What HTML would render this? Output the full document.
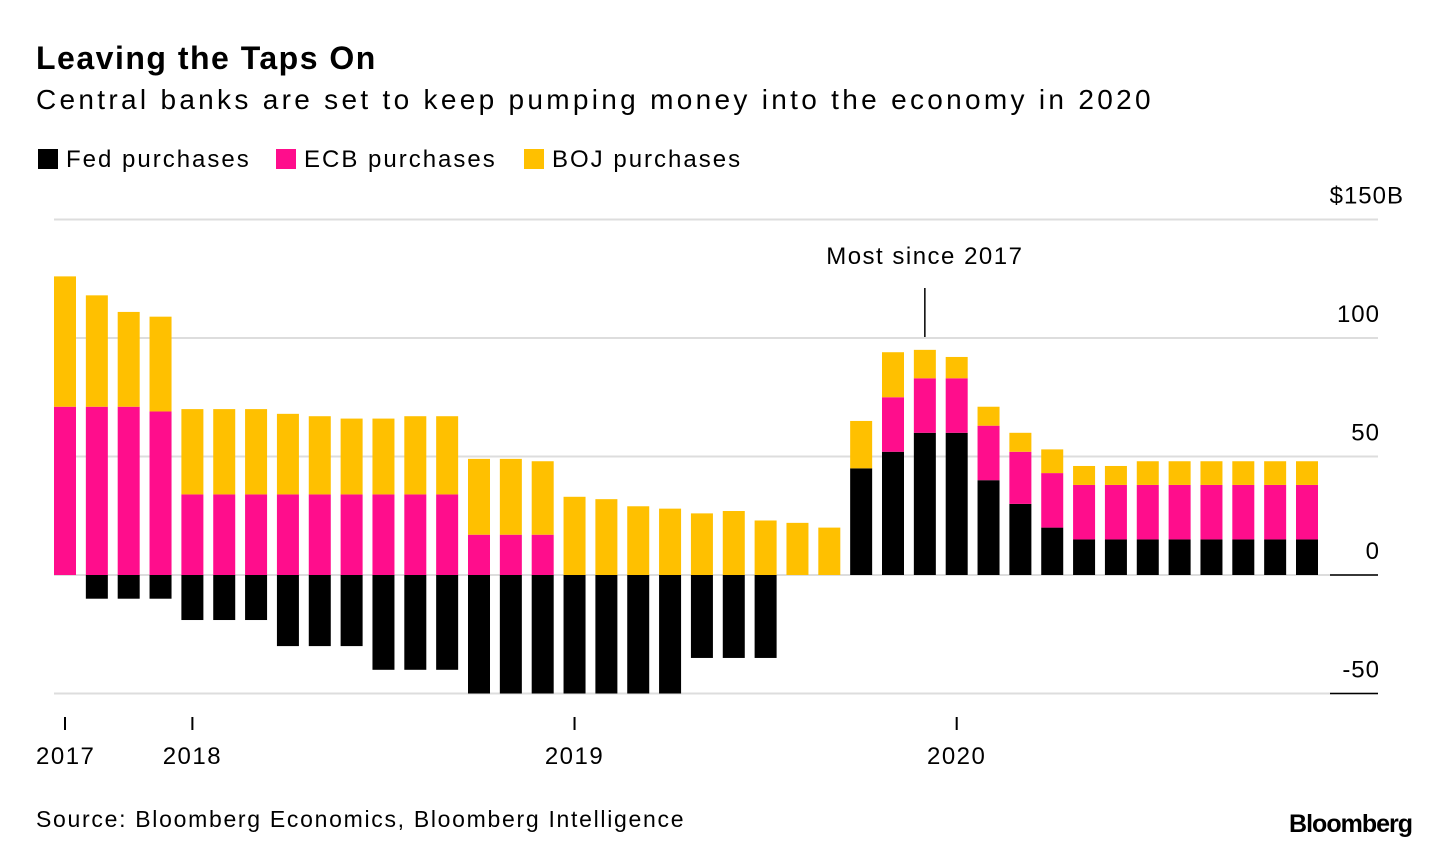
<!DOCTYPE html>
<html><head><meta charset="utf-8"><style>
body{margin:0;background:#fff;font-family:"Liberation Sans",sans-serif;}
#wrap{position:relative;width:1439px;height:850px;overflow:hidden;}
.t{position:absolute;white-space:nowrap;color:#000;}
</style></head><body>
<div id="wrap">
<div class="t" style="left:36px;top:40px;font-size:32px;font-weight:bold;letter-spacing:1.5px">Leaving the Taps On</div>
<div class="t" style="left:36px;top:84px;font-size:28px;letter-spacing:3.3px">Central banks are set to keep pumping money into the economy in 2020</div>
<div class="t" style="left:38px;top:146px;font-size:24px;letter-spacing:2px"><span style="display:inline-block;width:20px;height:20px;background:#000;vertical-align:-2px;margin-right:8px"></span>Fed purchases</div>
<div class="t" style="left:276px;top:146px;font-size:24px;letter-spacing:2px"><span style="display:inline-block;width:20px;height:20px;background:#ff0d8c;vertical-align:-2px;margin-right:8px"></span>ECB purchases</div>
<div class="t" style="left:524px;top:146px;font-size:24px;letter-spacing:2px"><span style="display:inline-block;width:20px;height:20px;background:#ffc000;vertical-align:-2px;margin-right:8px"></span>BOJ purchases</div>
<svg id="chart" width="1439" height="850" style="position:absolute;left:0;top:0"></svg>
<div class="t" style="left:36px;top:806px;font-size:23px;letter-spacing:1.7px">Source: Bloomberg Economics, Bloomberg Intelligence</div>
<div class="t" style="right:27px;top:810px;font-size:25px;font-weight:bold;letter-spacing:-1px">Bloomberg</div>
</div>
<script>
const fed=[0,-10,-10,-10,-19,-19,-19,-30,-30,-30,-40,-40,-40,-50,-50,-50,-50,-50,-50,-50,-35,-35,-35,0,0,45,52,60,60,40,30,20,15,15,15,15,15,15,15,15];
const ecb=[71,71,71,69,34,34,34,34,34,34,34,34,34,17,17,17,0,0,0,0,0,0,0,0,0,0,23,23,23,23,22,23,23,23,23,23,23,23,23,23];
const boj=[55,47,40,40,36,36,36,34,33,32,32,33,33,32,32,31,33,32,29,28,26,27,23,22,20,20,19,12,9,8,8,10,8,8,10,10,10,10,10,10];
const yTicks=[150,100,50,0,-50];
const yTickLabels=["$150B","100","50","0","-50"];
const xTickIdx=[0,4,16,28];
const xTickLabels=["2017","2018","2019","2020"];
const svg=document.getElementById('chart');
const NS="http://www.w3.org/2000/svg";
const y=v=>575-v*2.37;
const x0=65,step=(1307-65)/39,bw=22;
const xc=i=>x0+i*step;
function mk(t,a){const e=document.createElementNS(NS,t);for(const k in a)e.setAttribute(k,a[k]);svg.appendChild(e);return e;}
yTicks.forEach((v,i)=>{
  const l=mk('line',{x1:54,x2:1378,y1:y(v),y2:y(v),stroke:'#ddd','stroke-width':2});
  
  
  const t=mk('text',{x:i===0?1404:1380,y:y(v)-16,'text-anchor':'end','font-size':24,'font-family':'Liberation Sans','letter-spacing':1});
  t.textContent=yTickLabels[i];
  
  
});
fed.forEach((f,i)=>{
  const cx=xc(i);
  if(f!==0){const r=mk('rect',{x:cx-bw/2,y:Math.min(y(f),y(0)),width:bw,height:Math.abs(y(f)-y(0)),fill:'#000'});
  
  }
  const base=Math.max(f,0);
  if(ecb[i]>0){const r=mk('rect',{x:cx-bw/2,y:y(base+ecb[i]),width:bw,height:ecb[i]*2.37,fill:'#ff0d8c'});
  
  }
  if(boj[i]>0){const r=mk('rect',{x:cx-bw/2,y:y(base+ecb[i]+boj[i]),width:bw,height:boj[i]*2.37,fill:'#ffc000'});
  
  }
});
const z=mk('line',{x1:1330,x2:1378,y1:y(0),y2:y(0),stroke:'#000','stroke-width':1.5});


const m=mk('line',{x1:1330,x2:1378,y1:y(-50),y2:y(-50),stroke:'#000','stroke-width':1.5});


xTickIdx.forEach((idx,i)=>{
  const cx=xc(idx);
  const l=mk('line',{x1:cx,x2:cx,y1:717,y2:730,stroke:'#000','stroke-width':2});
  
  
  const t=mk('text',{x:cx,y:764,'text-anchor':i===0?'start':'middle','font-size':24,'font-family':'Liberation Sans','letter-spacing':1.5});
  if(i===0)t.setAttribute('x',cx-29);
  t.textContent=xTickLabels[i];
  
  
});
const ax=xc(27);
const al=mk('line',{x1:ax,x2:ax,y1:288,y2:337,stroke:'#000','stroke-width':1.5});


const at=mk('text',{x:ax,y:264,'text-anchor':'middle','font-size':24,'font-family':'Liberation Sans','letter-spacing':1.5});
at.textContent='Most since 2017';


</script>
</body></html>
